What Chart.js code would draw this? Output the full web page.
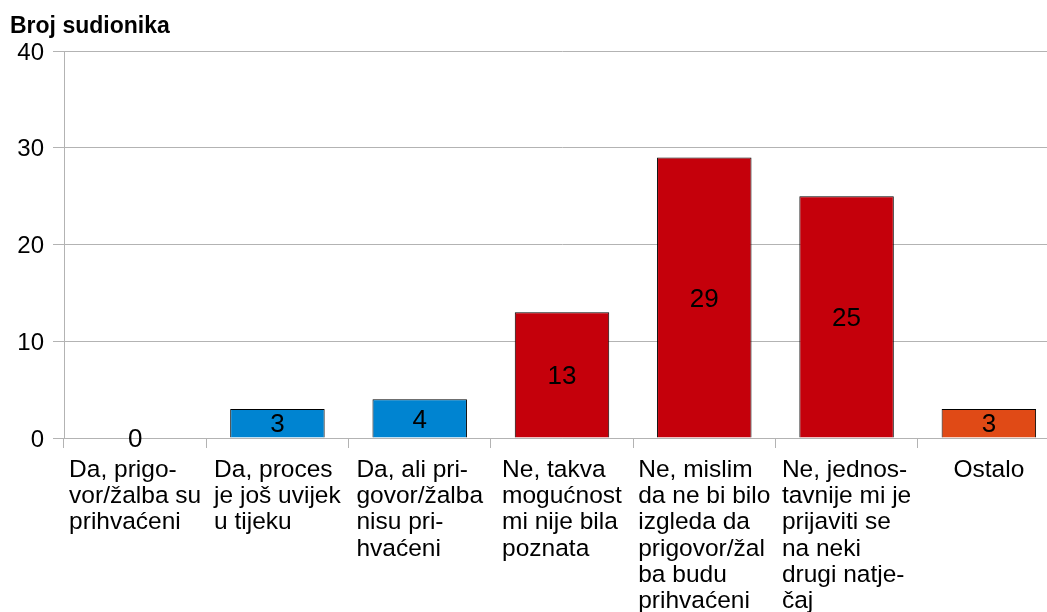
<!DOCTYPE html>
<html>
<head>
<meta charset="utf-8">
<script src="https://cdn.jsdelivr.net/npm/chart.js@4"></script>
<style>
  html, body { margin: 0; padding: 0; background: #fff; overflow: hidden; }
  #wrap { width: 1070px; height: 612px; }
</style>
</head>
<body>
<div id="wrap"><canvas id="myChart"></canvas></div>
<script>
const categories = [
  ['Da, prigo-', 'vor/žalba su', 'prihvaćeni'],
  ['Da, proces', 'je još uvijek', 'u tijeku'],
  ['Da, ali pri-', 'govor/žalba', 'nisu pri-', 'hvaćeni'],
  ['Ne, takva', 'mogućnost', 'mi nije bila', 'poznata'],
  ['Ne, mislim', 'da ne bi bilo', 'izgleda da', 'prigovor/žal', 'ba budu', 'prihvaćeni'],
  ['Ne, jednos-', 'tavnije mi je', 'prijaviti se', 'na neki', 'drugi natje-', 'čaj'],
  ['Ostalo']
];
const values = [0, 3, 4, 13, 29, 25, 3];
const barColors = ['#0084d1', '#0084d1', '#0084d1', '#c5000b', '#c5000b', '#c5000b', '#e04a16'];
const yTicks = [0, 10, 20, 30, 40];
const yTitle = 'Broj sudionika';

const FONT = '"Liberation Sans", Arial, sans-serif';
Chart.defaults.font.family = FONT;
Chart.defaults.color = '#000';

// value labels in the middle of each bar
const barLabels = {
  id: 'barLabels',
  afterDatasetsDraw(chart) {
    const ctx = chart.ctx;
    const meta = chart.getDatasetMeta(0);
    ctx.save();
    ctx.font = '26px ' + FONT;
    ctx.fillStyle = '#000';
    ctx.textAlign = 'center';
    ctx.textBaseline = 'middle';
    meta.data.forEach((bar, i) => {
      const p = bar.getProps(['x', 'y', 'base'], true);
      ctx.fillText(String(values[i]), p.x, (p.y + p.base) / 2 + 2);
    });
    ctx.restore();
  }
};

// category labels: lines left aligned, block centred under the category
const xLabels = {
  id: 'xLabels',
  afterDraw(chart) {
    const ctx = chart.ctx;
    const xs = chart.scales.x;
    ctx.save();
    ctx.font = '24.5px ' + FONT;
    ctx.fillStyle = '#000';
    ctx.textAlign = 'left';
    ctx.textBaseline = 'alphabetic';
    categories.forEach((lines, i) => {
      const w = Math.max(...lines.map(l => ctx.measureText(l).width));
      const x0 = xs.getPixelForValue(i) - w / 2;
      lines.forEach((line, k) => {
        ctx.fillText(line, x0, xs.top + 39 + k * 26.2);
      });
    });
    ctx.restore();
  }
};

const myChart = new Chart(document.getElementById('myChart'), {
  type: 'bar',
  data: {
    labels: categories,
    datasets: [{
      data: values,
      backgroundColor: barColors,
      borderColor: '#000',
      borderWidth: 1,
      categoryPercentage: 1,
      barPercentage: 0.664
    }]
  },
  options: {
    responsive: true,
    maintainAspectRatio: false,
    animation: false,
    layout: { padding: { left: 10, right: 10, top: 0, bottom: 0 } },
    plugins: {
      legend: { display: false },
      tooltip: { enabled: false },
      title: {
        display: true,
        text: yTitle,
        align: 'start',
        color: '#000',
        font: { size: 23, weight: 'bold' },
        padding: { top: 13, bottom: 10.4 }
      }
    },
    scales: {
      x: {
        offset: true,
        grid: { offset: true, drawOnChartArea: false, color: '#b3b3b3', tickLength: 10 },
        border: { color: '#b3b3b3' },
        ticks: { display: false },
        afterFit(scale) { scale.height = 174; }
      },
      y: {
        min: 0,
        max: 40,
        afterBuildTicks(scale) { scale.ticks = yTicks.map(v => ({ value: v })); },
        grid: { color: '#b3b3b3', tickLength: 11 },
        border: { color: '#b3b3b3' },
        ticks: { font: { size: 24 }, color: '#000', padding: 9, labelOffset: 2 },
        afterFit(scale) { scale.width = 54; }
      }
    }
  },
  plugins: [barLabels, xLabels]
});
</script>
</body>
</html>
